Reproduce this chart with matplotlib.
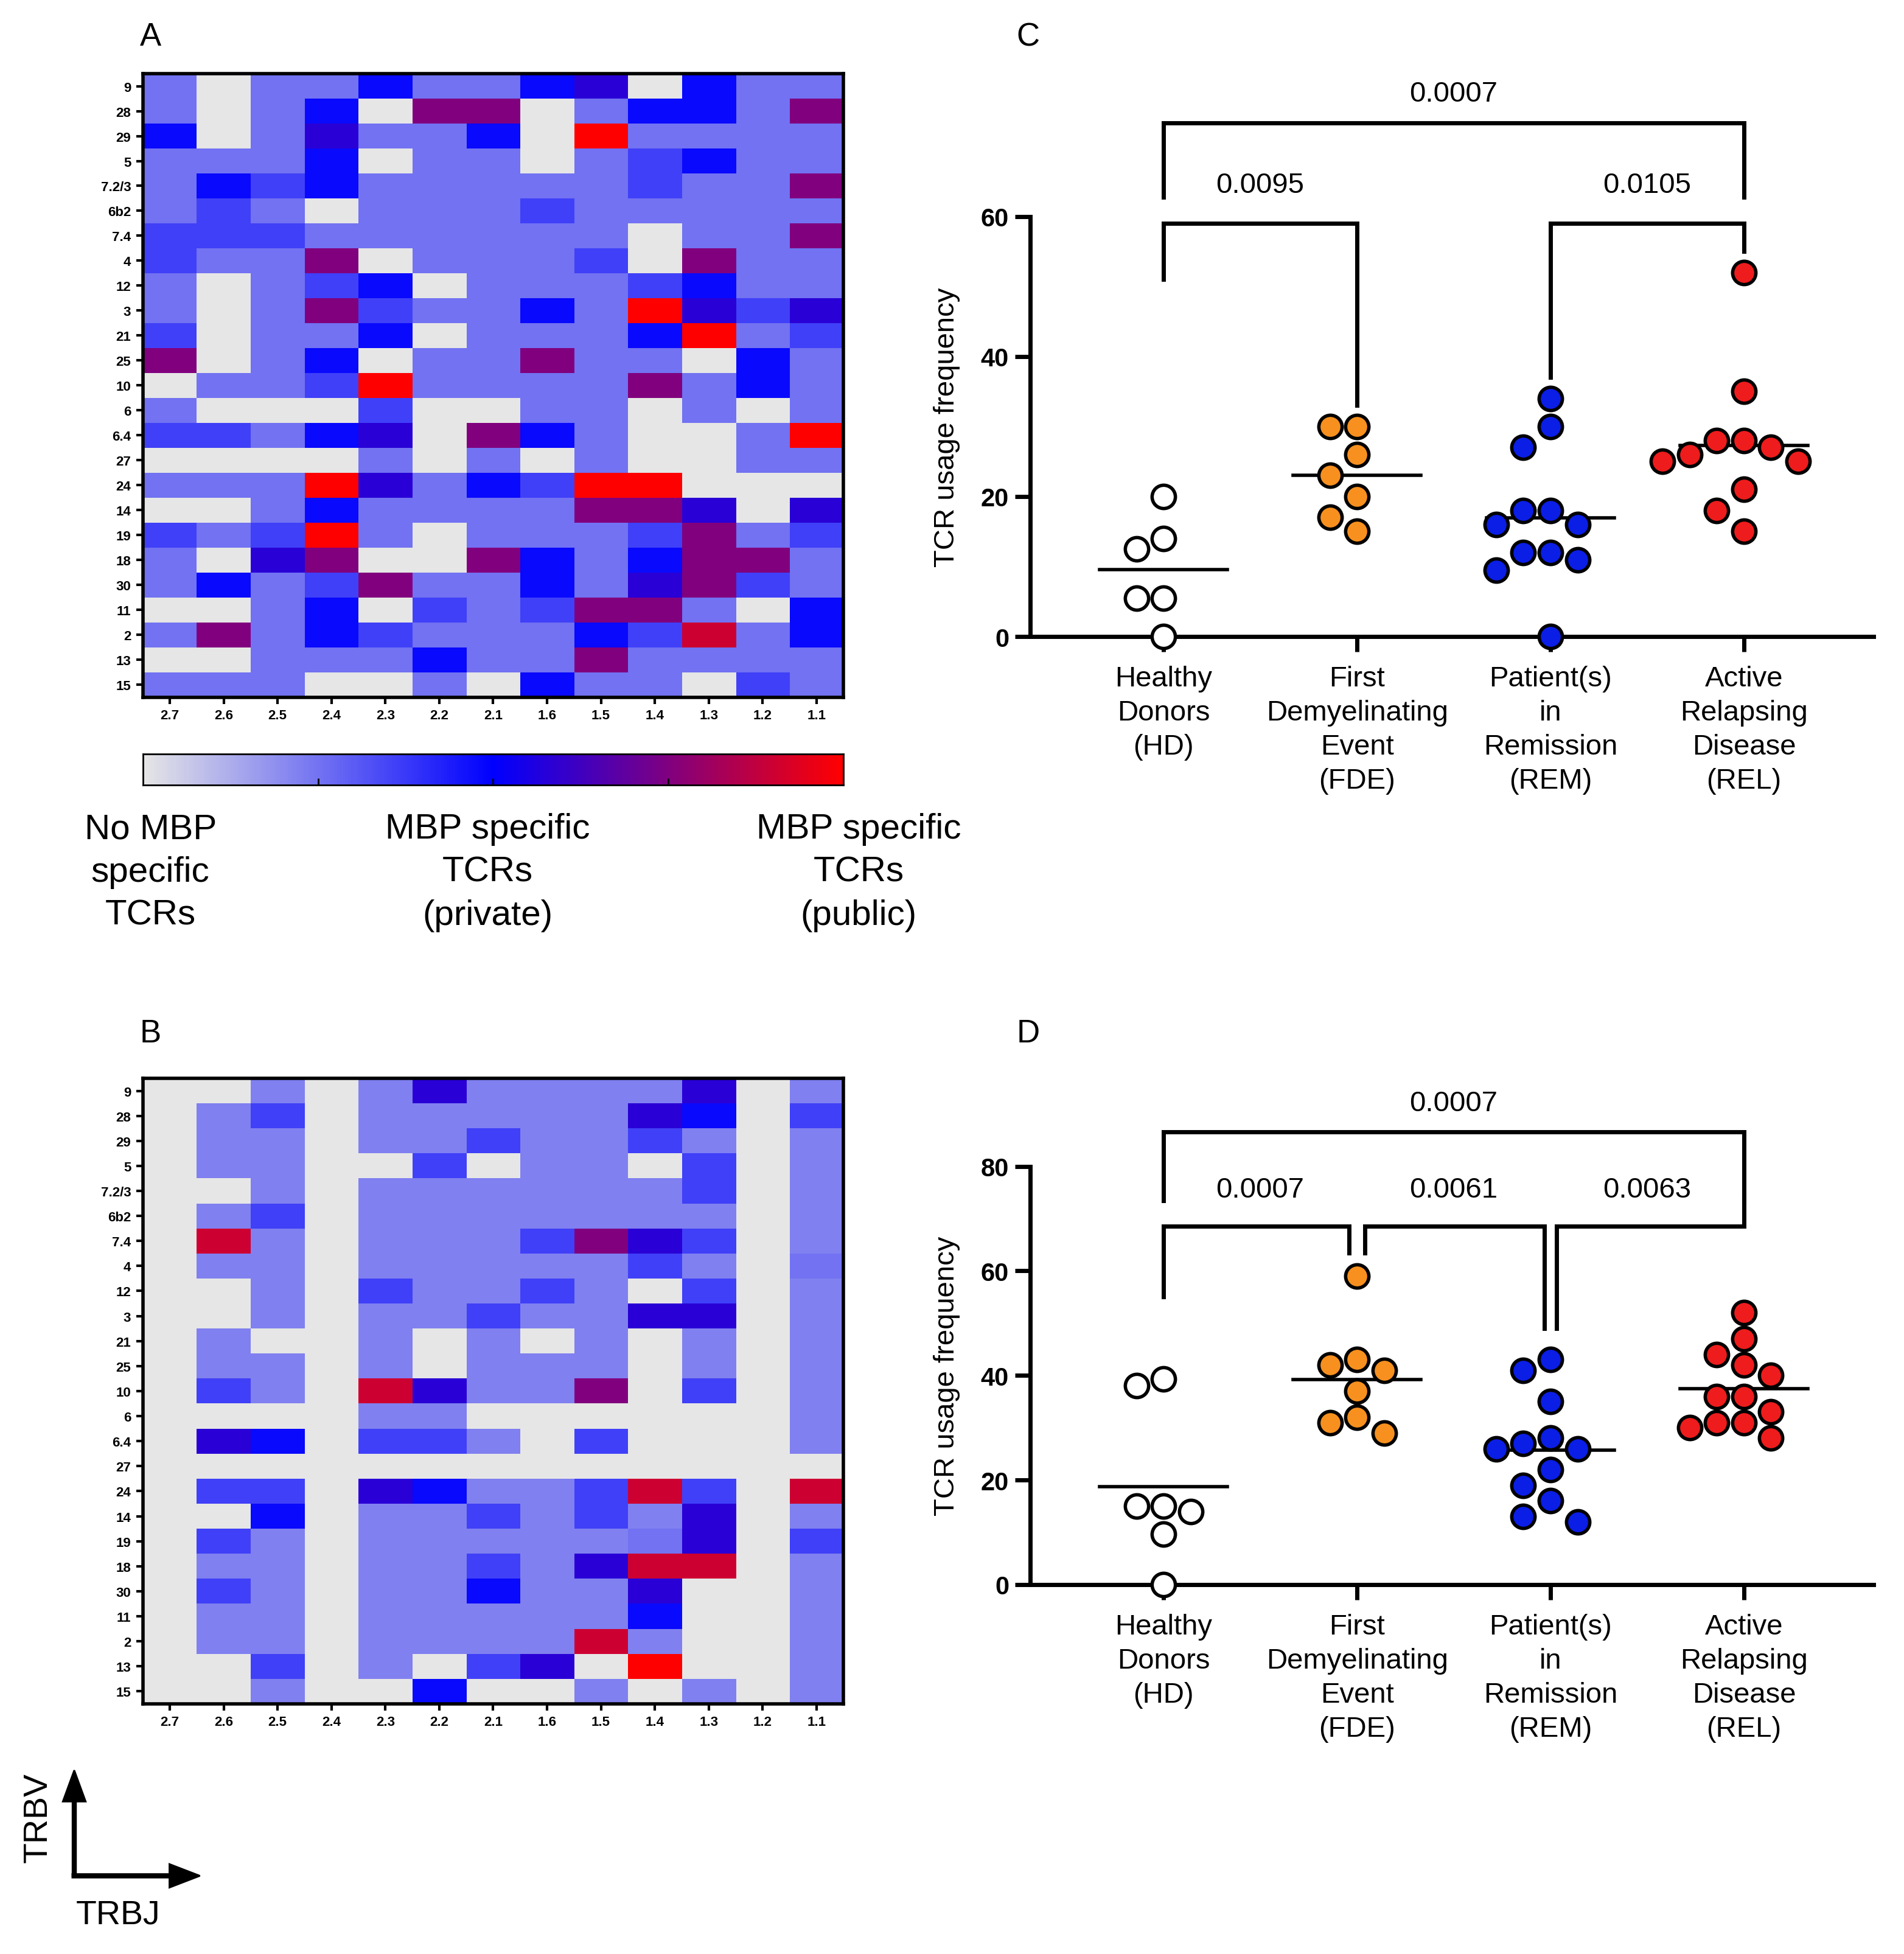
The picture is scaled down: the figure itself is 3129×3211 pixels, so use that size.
import numpy as np
import matplotlib
matplotlib.use("Agg")
import matplotlib.pyplot as plt
from matplotlib.colors import LinearSegmentedColormap

plt.rcParams['font.family'] = ['Liberation Sans', 'DejaVu Sans']

trbv = ['9', '28', '29', '5', '7.2/3', '6b2', '7.4', '4', '12', '3', '21', '25', '10',
        '6', '6.4', '27', '24', '14', '19', '18', '30', '11', '2', '13', '15']
trbj = ['2.7', '2.6', '2.5', '2.4', '2.3', '2.2', '2.1', '1.6', '1.5', '1.4', '1.3', '1.2', '1.1']

# level codes: g none, l/L light blue, M medium, B blue, D blue-purple, P purple, C crimson, R red
levels = {'g': 0, 'l': 2.2, 'L': 2.5, 'M': 3.6, 'B': 4.8, 'D': 5.8, 'P': 7.5, 'C': 9.0, 'R': 10}

heat_a = """L g L L B L L B D g B L L
L g L B g P P g L B B L P
B g L D L L B g R L L L L
L L L B g L L g L M B L L
L B M B L L L L L M L L P
L M L g L L L M L L L L L
M M M L L L L L L g L L P
M L L P g L L L M g P L L
L g L M B g L L L M B L L
L g L P M L L B L R D M D
M g L L B g L L L B R L M
P g L B g L L P L L g B L
g L L M R L L L L P L B L
L g g g M g g L L g L g L
M M L B D g P B L g g L R
g g g g L g L g L g g L L
L L L R D L B M R R g g g
g g L B L L L L P P D g D
M L M R L g L L L M P L M
L g D P g g P B L B P P L
L B L M P L L B L D P M L
g g L B g M L M P P L g B
L P L B M L L L B M C L B
g g L L L B L L P L L L L
L L L g g L g B L L g M L"""

heat_b = """g g l g l D l l l l D g l
g l M g l l l l l D B g M
g l l g l l M l l M l g l
g l l g g M g l l g M g l
g g l g l l l l l l M g l
g l M g l l l l l l l g l
g C l g l l l M P D M g l
g l l g l l l l l M l g L
g g l g M l l M l g M g l
g g l g l l M l l D D g l
g l g g l g l g l g l g l
g l l g l g l l l g l g l
g M l g C D l l P g M g l
g g g g l l g g g g g g l
g D B g M M l g M g g g l
g g g g g g g g g g g g g
g M M g D B l l M C M g C
g g B g l l M l M l D g l
g M l g l l l l l L D g M
g l l g l l M l D C C g l
g M l g l l B l l D g g l
g l l g l l l l l B g g l
g l l g l l l l C l g g l
g g M g l g M D g R g g l
g g l g g B g g l g l g l"""

groups = ['Healthy\nDonors\n(HD)', 'First\nDemyelinating\nEvent\n(FDE)',
          'Patient(s)\nin\nRemission\n(REM)', 'Active\nRelapsing\nDisease\n(REL)']
group_colors = ['white', '#f7901e', '#0a1ee6', '#ee1c1c']

c_hd = [20, 14, 12.5, 5.5, 5.5, 0]
c_fde = [30, 30, 26, 23, 20, 17, 15]
c_rem = [34, 30, 27, 18, 18, 16, 16, 12, 12, 11, 9.5, 0]
c_rel = [52, 35, 28, 28, 27, 26, 25, 25, 21, 18, 15]

d_hd = [39.3, 38, 15, 15, 14, 9.7, 0]
d_fde = [59, 43, 42, 41, 37, 32, 31, 29]
d_rem = [43, 41, 35, 28, 27, 26, 26, 22, 19, 16, 13, 12]
d_rel = [52, 47, 44, 42, 40, 36, 36, 33, 31, 31, 30, 28]

c_pvals = ['0.0007', '0.0095', '0.0105']
d_pvals = ['0.0007', '0.0007', '0.0061', '0.0063']

cmap = LinearSegmentedColormap.from_list(
    'mbp', [(0, '#e6e6e6'), (0.5, '#0000ff'), (0.75, '#800080'), (1.0, '#ff0000')])


def parse(txt):
    return np.array([[levels[c] for c in row.split()] for row in txt.splitlines()])


fig = plt.figure(figsize=(15.645, 16.06), dpi=200)


def heatmap(rect, txt):
    ax = fig.add_axes(rect)
    ax.imshow(parse(txt), cmap=cmap, vmin=0, vmax=10, aspect='auto', interpolation='nearest')
    ax.set_xticks(range(len(trbj)))
    ax.set_xticklabels(trbj, fontsize=8, fontweight='bold')
    ax.set_yticks(range(len(trbv)))
    ax.set_yticklabels(trbv, fontsize=8, fontweight='bold')
    ax.tick_params(width=1.5, length=4, pad=3)
    for s in ax.spines.values():
        s.set_linewidth(2)
    return ax


heatmap([0.075, 0.643, 0.368, 0.319], heat_a)
heatmap([0.075, 0.128, 0.368, 0.320], heat_b)

# colorbar
cax = fig.add_axes([0.075, 0.598, 0.368, 0.016])
cax.imshow(np.linspace(0, 10, 256)[None, :], cmap=cmap, vmin=0, vmax=10, aspect='auto',
           extent=[0, 1, 0, 1])
cax.set_xticks([0.25, 0.5, 0.75])
cax.set_xticklabels([])
cax.tick_params(direction='in', length=4, width=1, left=False, labelleft=False)
cax.set_yticks([])
for s in cax.spines.values():
    s.set_linewidth(1)

for x, t in [(0.079, 'No MBP\nspecific\nTCRs'), (0.256, 'MBP specific\nTCRs\n(private)'),
             (0.451, 'MBP specific\nTCRs\n(public)')]:
    fig.text(x, 0.584, t, ha='center', va='top', fontsize=21, linespacing=1.4)

for x, y, t in [(0.079, 0.981, 'A'), (0.079, 0.471, 'B'), (0.54, 0.981, 'C'), (0.54, 0.471, 'D')]:
    fig.text(x, y, t, ha='center', va='center', fontsize=19)


def swarm(vals, yscale, d=0.14):
    placed = []
    xs = []
    for v in vals:
        for off in [0, -d, d, -2 * d, 2 * d, -3 * d, 3 * d]:
            if all((off - px) ** 2 + ((v - py) * yscale) ** 2 >= (0.95 * d) ** 2 for px, py in placed):
                break
        placed.append((off, v))
        xs.append(off)
    return np.array(xs)


def scatter_panel(rect, data, ymax, ystep, brackets):
    ax = fig.add_axes(rect)
    yscale = 0.14 / (ymax * 0.062)
    for i, vals in enumerate(data):
        xs = i + swarm(vals, yscale)
        ax.scatter(xs, vals, s=190, c=group_colors[i], edgecolors='black', linewidths=2,
                   zorder=3, clip_on=False)
        m = np.mean(vals)
        ax.plot([i - 0.33, i + 0.33], [m, m], color='black', lw=2, zorder=2)
    ax.set_xlim(-0.69, 3.67)
    ax.set_ylim(0, ymax)
    ax.spines['top'].set_visible(False)
    ax.spines['right'].set_visible(False)
    ax.spines['left'].set_linewidth(2.5)
    ax.spines['bottom'].set_linewidth(2.5)
    ax.set_yticks(np.arange(0, ymax + 1, ystep))
    ax.set_yticklabels([str(int(v)) for v in np.arange(0, ymax + 1, ystep)],
                       fontsize=15, fontweight='bold')
    ax.set_xticks(range(4))
    ax.set_xticklabels(groups, fontsize=17, linespacing=1.35)
    ax.tick_params(axis='both', width=2.5, length=9)
    ax.tick_params(axis='x', pad=8)
    ax.set_ylabel('TCR usage frequency', fontsize=17, labelpad=12)
    for x1, x2, y1, y2, ytop, txt, tx, ty in brackets:
        ax.plot([x1, x1, x2, x2], [y1, ytop, ytop, y2], color='black', lw=2.5,
                clip_on=False, solid_joinstyle='miter')
        ax.text(tx, ty, txt, ha='center', va='center', fontsize=17)
    return ax


scatter_panel([0.541, 0.674, 0.443, 0.215], [c_hd, c_fde, c_rem, c_rel], 60, 20, [
    (0, 3, 62.7, 62.7, 73.3, c_pvals[0], 1.5, 77.5),
    (0, 1, 51, 33, 59, c_pvals[1], 0.5, 64.5),
    (2, 3, 37, 55, 59, c_pvals[2], 2.5, 64.5),
])

scatter_panel([0.541, 0.189, 0.443, 0.214], [d_hd, d_fde, d_rem, d_rel], 80, 20, [
    (0, 3, 73.4, 73.4, 86.6, d_pvals[0], 1.5, 92),
    (0, 0.96, 55, 63.4, 68.6, d_pvals[1], 0.5, 75.5),
    (1.04, 1.97, 63.4, 49, 68.6, d_pvals[2], 1.5, 75.5),
    (2.03, 3, 49, 73.4, 68.6, d_pvals[3], 2.5, 75.5),
])

# TRBV / TRBJ axis arrows
fig.patches.append(matplotlib.patches.FancyArrow(
    0.039, 0.04, 0, 0.054, width=0.0018, head_width=0.012, head_length=0.016,
    color='black', transform=fig.transFigure, length_includes_head=True))
fig.patches.append(matplotlib.patches.FancyArrow(
    0.038, 0.04, 0.067, 0, width=0.0018, head_width=0.012, head_length=0.016,
    color='black', transform=fig.transFigure, length_includes_head=True))
fig.text(0.02, 0.07, 'TRBV', rotation=90, ha='center', va='center', fontsize=20)
fig.text(0.062, 0.02, 'TRBJ', ha='center', va='center', fontsize=20)

fig.savefig('out.png', dpi=200)
